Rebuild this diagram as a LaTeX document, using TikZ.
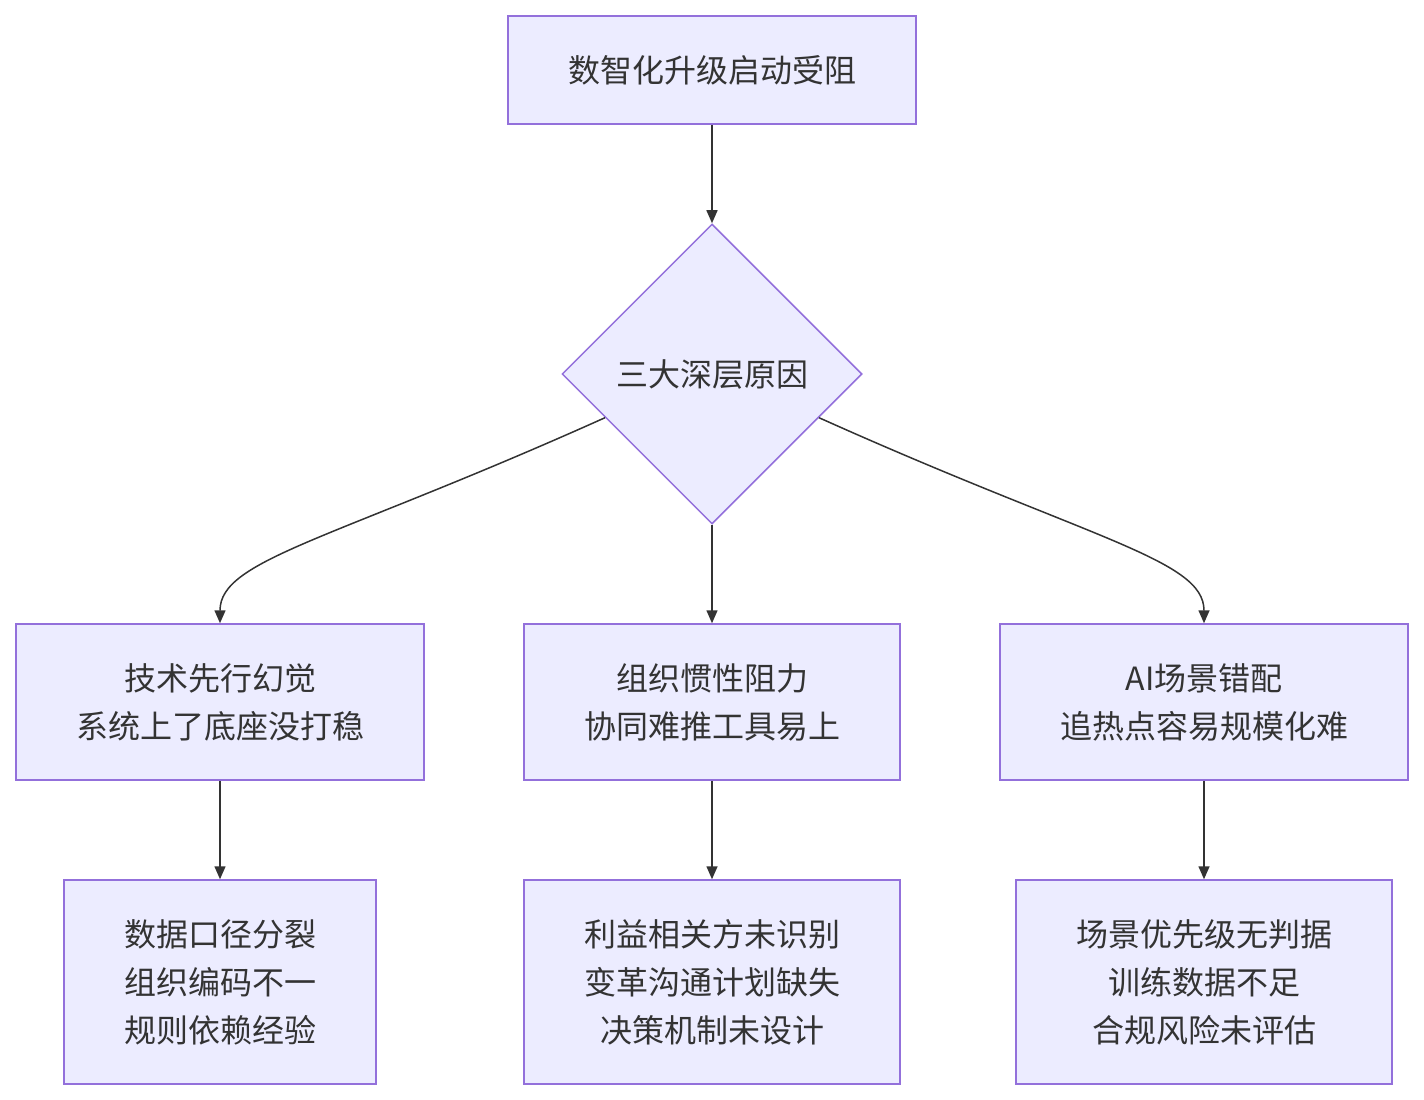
\documentclass[tikz,border=0pt]{standalone}
\usepackage{fontspec}
\setmainfont{Noto Sans CJK SC}
\usetikzlibrary{shapes.geometric,arrows.meta,calc}
\definecolor{boxfill}{HTML}{ECECFF}
\definecolor{boxline}{HTML}{9370DB}
\definecolor{ink}{HTML}{333333}
\begin{document}
\begin{tikzpicture}[x=1pt,y=-1pt,
  box/.style={draw=boxline,fill=boxfill,line width=1.5pt,text=ink,align=center,
    font=\fontsize{32}{48}\selectfont,inner sep=0pt},
  decision/.style={box,diamond,minimum width=300pt,minimum height=300pt},
  link/.style={draw=ink,line width=1.5pt,-{Triangle[length=13pt,width=11pt]}}]
\useasboundingbox (0,0) rectangle (1424,1100);
\node[box,minimum width=408pt,minimum height=108pt] (top) at (712,70) {数智化升级启动受阻};
\node[decision] (dia) at (712,374) {三大深层原因};
\node[box,minimum width=408pt,minimum height=156pt] (m1) at (220,702) {技术先行幻觉\\系统上了底座没打稳};
\node[box,minimum width=376pt,minimum height=156pt] (m2) at (712,702) {组织惯性阻力\\协同难推工具易上};
\node[box,minimum width=408pt,minimum height=156pt] (m3) at (1204,702) {AI场景错配\\追热点容易规模化难};
\node[box,minimum width=312pt,minimum height=204pt] (b1) at (220,982) {数据口径分裂\\组织编码不一\\规则依赖经验};
\node[box,minimum width=376pt,minimum height=204pt] (b2) at (712,982) {利益相关方未识别\\变革沟通计划缺失\\决策机制未设计};
\node[box,minimum width=376pt,minimum height=204pt] (b3) at (1204,982) {场景优先级无判据\\训练数据不足\\合规风险未评估};
\coordinate (dl) at ($(dia.west)!0.29!(dia.south)$);
\coordinate (dr) at ($(dia.east)!0.29!(dia.south)$);
\draw[link] (top) -- (dia);
\draw[link] (dia) -- (m2);
\draw[link] (dl) .. controls +(-274,123) and +(0,-64) .. (m1.north);
\draw[link] (dr) .. controls +(274,123) and +(0,-64) .. (m3.north);
\draw[link] (m1) -- (b1);
\draw[link] (m2) -- (b2);
\draw[link] (m3) -- (b3);
\end{tikzpicture}
\end{document}
